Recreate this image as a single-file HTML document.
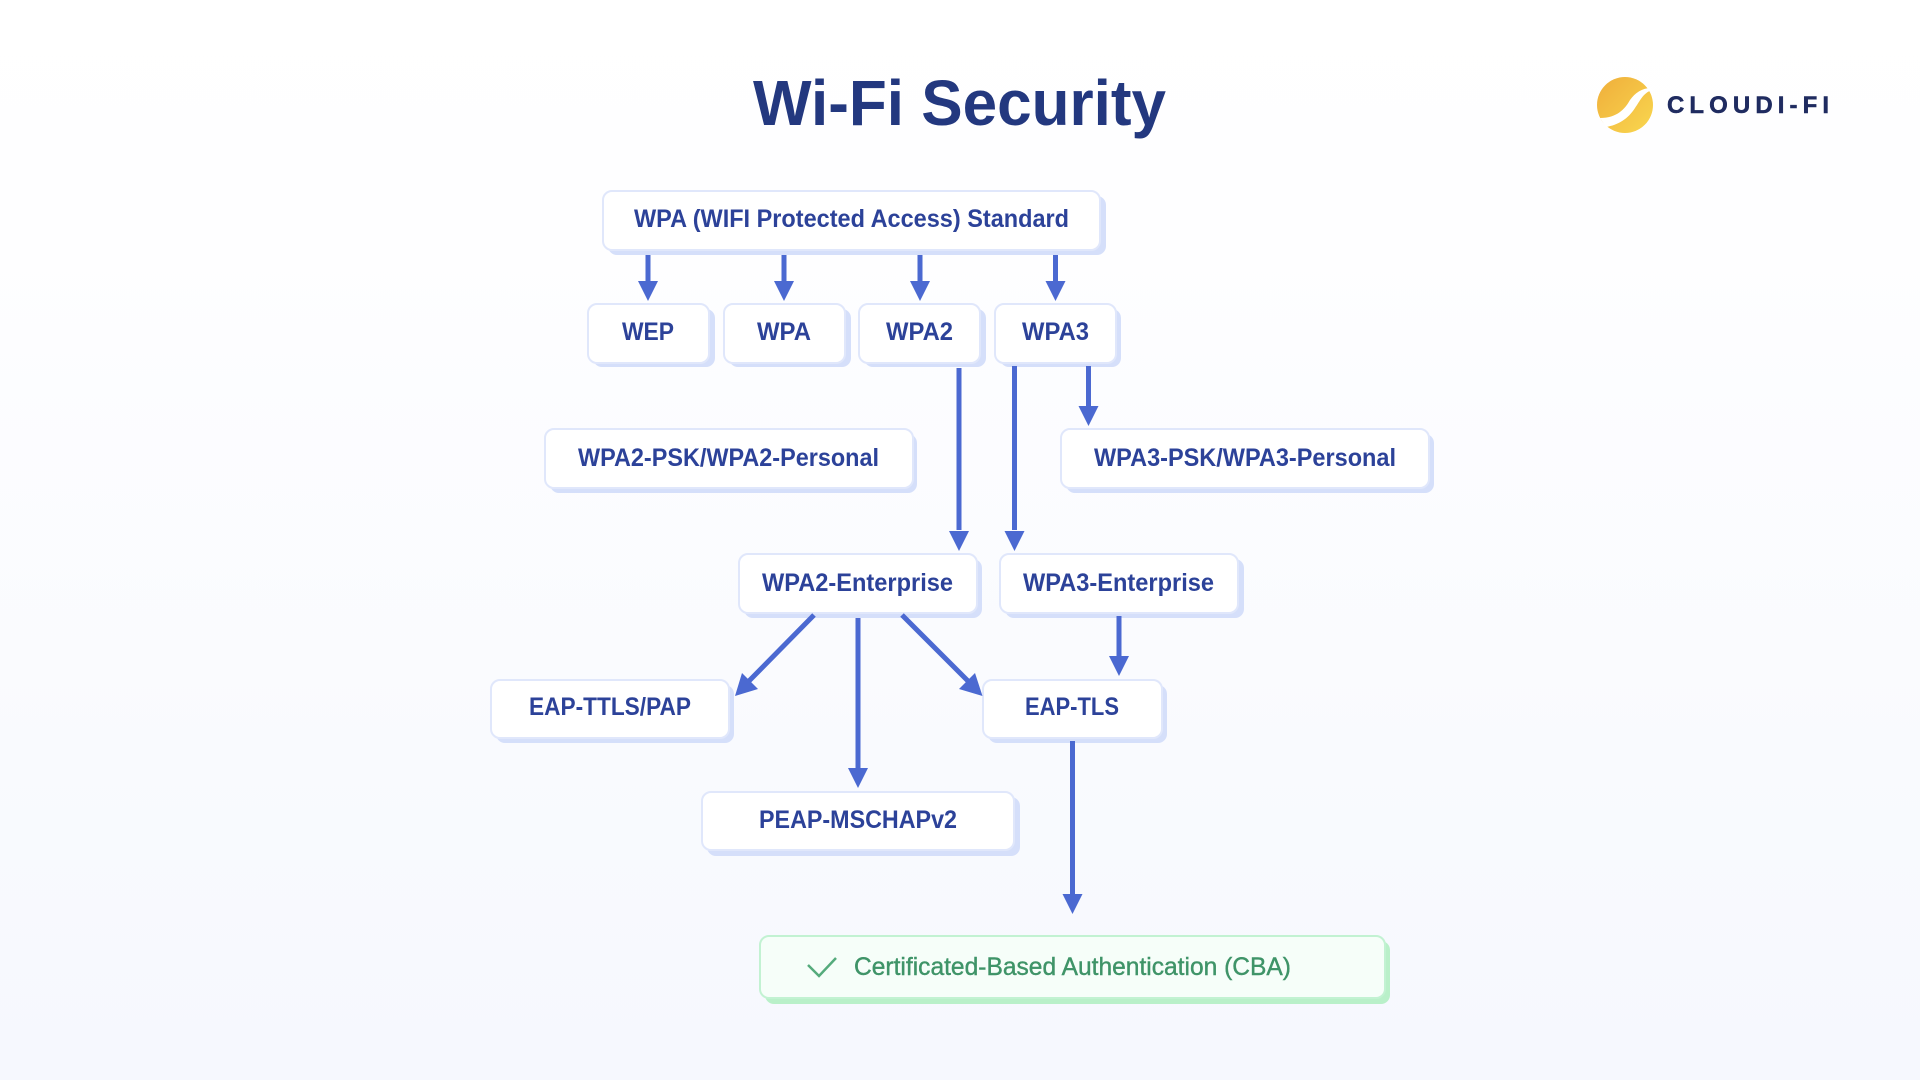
<!DOCTYPE html>
<html lang="en">
<head>
<meta charset="utf-8">
<title>Wi-Fi Security</title>
<style>
html,body{margin:0;padding:0;width:1920px;height:1080px;overflow:hidden;background:#fff}
svg{display:block}
text{font-family:"Liberation Sans",sans-serif}
.n{font-size:25px;font-weight:700;fill:#2c4299}
.s{fill:#d5dffa}
.b{fill:#fff;stroke:#e0e7fb;stroke-width:2}
.l{stroke:#4b69d1;stroke-width:5;fill:none}
.h{fill:#4b69d1}
</style>
</head>
<body>
<svg width="1920" height="1080" viewBox="0 0 1920 1080" xmlns="http://www.w3.org/2000/svg">
<defs>
<linearGradient id="bg" x1="0" y1="0" x2="0" y2="1">
<stop offset="0" stop-color="#ffffff"/><stop offset=".2" stop-color="#fefeff"/><stop offset="1" stop-color="#f6f8fe"/>
</linearGradient>
<linearGradient id="sun" x1="0" y1="0" x2="1" y2="1">
<stop offset="0" stop-color="#efae3b"/><stop offset="1" stop-color="#f9d74f"/>
</linearGradient>
</defs>
<rect width="1920" height="1080" fill="url(#bg)"/>

<text x="753" y="125" font-size="64" font-weight="700" fill="#23387f" textLength="413" lengthAdjust="spacingAndGlyphs">Wi-Fi Security</text>

<circle cx="1625" cy="105" r="28" fill="url(#sun)"/>
<path d="M1600 118C1617 118 1625 109 1630 100C1635 93 1642 88 1651 88L1652 90C1643 93 1640 101 1635 108C1628 119 1618 125 1606 127Z" fill="#fff"/>
<text x="1667" y="113" font-size="24" font-weight="700" fill="#1f2b60" stroke="#1f2b60" stroke-width=".5" textLength="162" lengthAdjust="spacing">CLOUDI-FI</text>

<!-- shadows -->
<rect class="s" x="608" y="196" width="498" height="59" rx="9"/>
<rect class="s" x="593" y="309" width="122" height="58" rx="9"/>
<rect class="s" x="729" y="309" width="122" height="58" rx="9"/>
<rect class="s" x="864" y="309" width="122" height="58" rx="9"/>
<rect class="s" x="1000" y="309" width="121" height="58" rx="9"/>
<rect class="s" x="550" y="434" width="367" height="59" rx="9"/>
<rect class="s" x="1066" y="434" width="368" height="59" rx="9"/>
<rect class="s" x="744" y="559" width="238" height="59" rx="9"/>
<rect class="s" x="1005" y="559" width="239" height="59" rx="9"/>
<rect class="s" x="496" y="685" width="238" height="58" rx="9"/>
<rect class="s" x="988" y="685" width="179" height="58" rx="9"/>
<rect class="s" x="707" y="797" width="313" height="59" rx="9"/>
<rect x="765" y="941" width="625" height="63" rx="9" fill="#b9f0c9"/>

<!-- nodes -->
<rect class="b" x="603" y="191" width="497" height="59" rx="9"/>
<rect class="b" x="588" y="304" width="121" height="59" rx="9"/>
<rect class="b" x="724" y="304" width="121" height="59" rx="9"/>
<rect class="b" x="859" y="304" width="121" height="59" rx="9"/>
<rect class="b" x="995" y="304" width="121" height="59" rx="9"/>
<rect class="b" x="545" y="429" width="368" height="59" rx="9"/>
<rect class="b" x="1061" y="429" width="368" height="59" rx="9"/>
<rect class="b" x="739" y="554" width="238" height="59" rx="9"/>
<rect class="b" x="1000" y="554" width="238" height="59" rx="9"/>
<rect class="b" x="491" y="680" width="238" height="58" rx="9"/>
<rect class="b" x="983" y="680" width="179" height="58" rx="9"/>
<rect class="b" x="702" y="792" width="312" height="58" rx="9"/>
<rect x="760" y="936" width="625" height="62" rx="9" fill="#f6fef9" stroke="#c2f2d2" stroke-width="2"/>

<!-- labels -->
<text class="n" x="634" y="227" textLength="435" lengthAdjust="spacingAndGlyphs">WPA (WIFI Protected Access) Standard</text>
<text class="n" x="622" y="340" textLength="52" lengthAdjust="spacingAndGlyphs">WEP</text>
<text class="n" x="757" y="340" textLength="54" lengthAdjust="spacingAndGlyphs">WPA</text>
<text class="n" x="886" y="340" textLength="67" lengthAdjust="spacingAndGlyphs">WPA2</text>
<text class="n" x="1022" y="340" textLength="67" lengthAdjust="spacingAndGlyphs">WPA3</text>
<text class="n" x="578" y="466" textLength="301" lengthAdjust="spacingAndGlyphs">WPA2-PSK/WPA2-Personal</text>
<text class="n" x="1094" y="466" textLength="302" lengthAdjust="spacingAndGlyphs">WPA3-PSK/WPA3-Personal</text>
<text class="n" x="762" y="591" textLength="191" lengthAdjust="spacingAndGlyphs">WPA2-Enterprise</text>
<text class="n" x="1023" y="591" textLength="191" lengthAdjust="spacingAndGlyphs">WPA3-Enterprise</text>
<text class="n" x="529" y="715" textLength="162" lengthAdjust="spacingAndGlyphs">EAP-TTLS/PAP</text>
<text class="n" x="1025" y="715" textLength="94" lengthAdjust="spacingAndGlyphs">EAP-TLS</text>
<text class="n" x="759" y="828" textLength="198" lengthAdjust="spacingAndGlyphs">PEAP-MSCHAPv2</text>
<text x="854" y="975" font-size="25" fill="#3f9468" stroke="#3f9468" stroke-width=".4" textLength="437" lengthAdjust="spacingAndGlyphs">Certificated-Based Authentication (CBA)</text>
<path d="M808 965L819 976L836 958" fill="none" stroke="#55ab7c" stroke-width="2.5"/>

<!-- connectors -->
<path class="l" d="M648 255V282M784 255V282M920 255V282M1055.5 255V282M959 368V530M1014.5 366V530M1088.5 366V406M858 618V768M1119 616V656M1072.5 741V894M814 615L748 682M902 615L969 682"/>
<path class="h" d="M638 281H658L648 301ZM774 281H794L784 301ZM910 281H930L920 301ZM1045.5 281H1065.5L1055.5 301ZM949 531H969L959 551ZM1004.5 531H1024.5L1014.5 551ZM1078.5 406H1098.5L1088.5 426ZM848 768H868L858 788ZM1109 656H1129L1119 676ZM1062.5 894H1082.5L1072.5 914ZM735 696L742 673L758 689ZM982.5 696L959 689L975 673Z"/>
</svg>
</body>
</html>
